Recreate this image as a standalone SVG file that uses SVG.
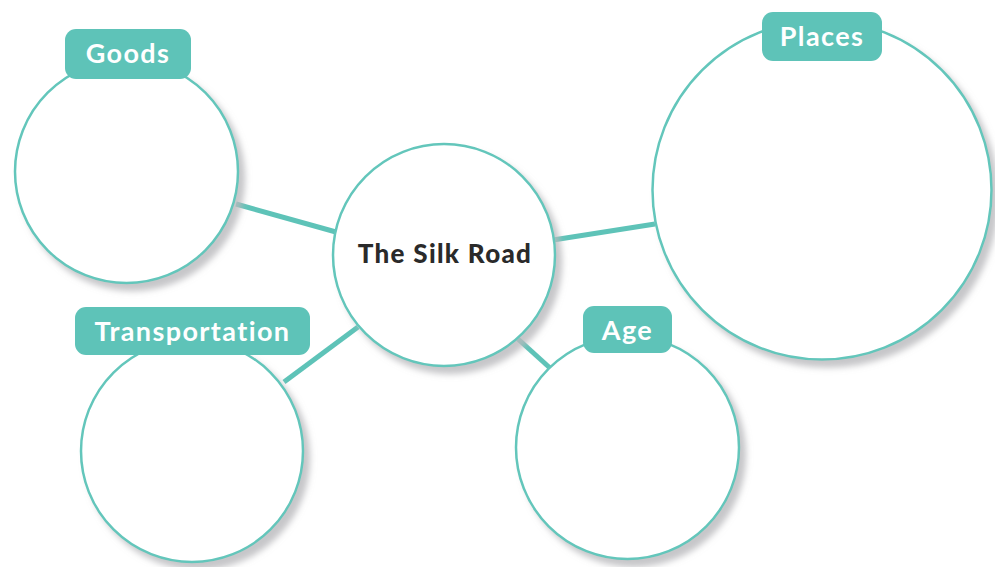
<svg xmlns="http://www.w3.org/2000/svg" width="995" height="567" viewBox="0 0 995 567">
<defs>
<filter id="sh" x="-20%" y="-20%" width="150%" height="150%">
<feDropShadow dx="6" dy="7" stdDeviation="3" flood-color="#b8b8bc" flood-opacity="0.8"/>
</filter>
<style>
.c{fill:#fff;stroke:#63c6bb;stroke-width:2.5;filter:url(#sh)}
.lab{fill:#5ec3b8}
.lt{font-family:Lato,"Noto Sans",sans-serif;font-weight:bold;font-size:27px;letter-spacing:1.4px;fill:#fff;text-anchor:middle;font-variant-ligatures:none}
.ct{font-family:Lato,"Noto Sans",sans-serif;font-weight:900;font-size:26px;letter-spacing:1.3px;fill:#2a2a2a;text-anchor:middle;font-variant-ligatures:none}
.k{stroke:#5ec3b8;stroke-width:5;stroke-linecap:butt}
</style>
</defs>
<rect width="995" height="567" fill="#fff"/>
<g id="connectors">
<line class="k" x1="236" y1="204" x2="336" y2="232"/>
<line class="k" x1="553" y1="240" x2="655" y2="224"/>
<line class="k" x1="284" y1="382" x2="358" y2="327"/>
<line class="k" x1="518" y1="339" x2="550" y2="368"/>
</g>
<g id="center">
<circle class="c" cx="444" cy="255" r="111"/>
<text class="ct" x="445" y="263">The Silk Road</text>
</g>
<g id="goods">
<circle class="c" cx="126.5" cy="171.5" r="111.5"/>
<rect class="lab" x="65" y="29" width="126" height="50" rx="11"/>
<text class="lt" x="128" y="63">Goods</text>
</g>
<g id="places">
<circle class="c" cx="822" cy="190" r="169.5"/>
<rect class="lab" x="762" y="12" width="120" height="49" rx="11"/>
<text class="lt" x="822" y="46">Places</text>
</g>
<g id="transportation">
<circle class="c" cx="192" cy="451" r="111"/>
<rect class="lab" x="75" y="307" width="235" height="48" rx="11"/>
<text class="lt" x="192.5" y="341">Transportation</text>
</g>
<g id="age">
<circle class="c" cx="627.5" cy="447.5" r="111.5"/>
<rect class="lab" x="583" y="306" width="89" height="47" rx="11"/>
<text class="lt" x="627.5" y="340">Age</text>
</g>
</svg>
